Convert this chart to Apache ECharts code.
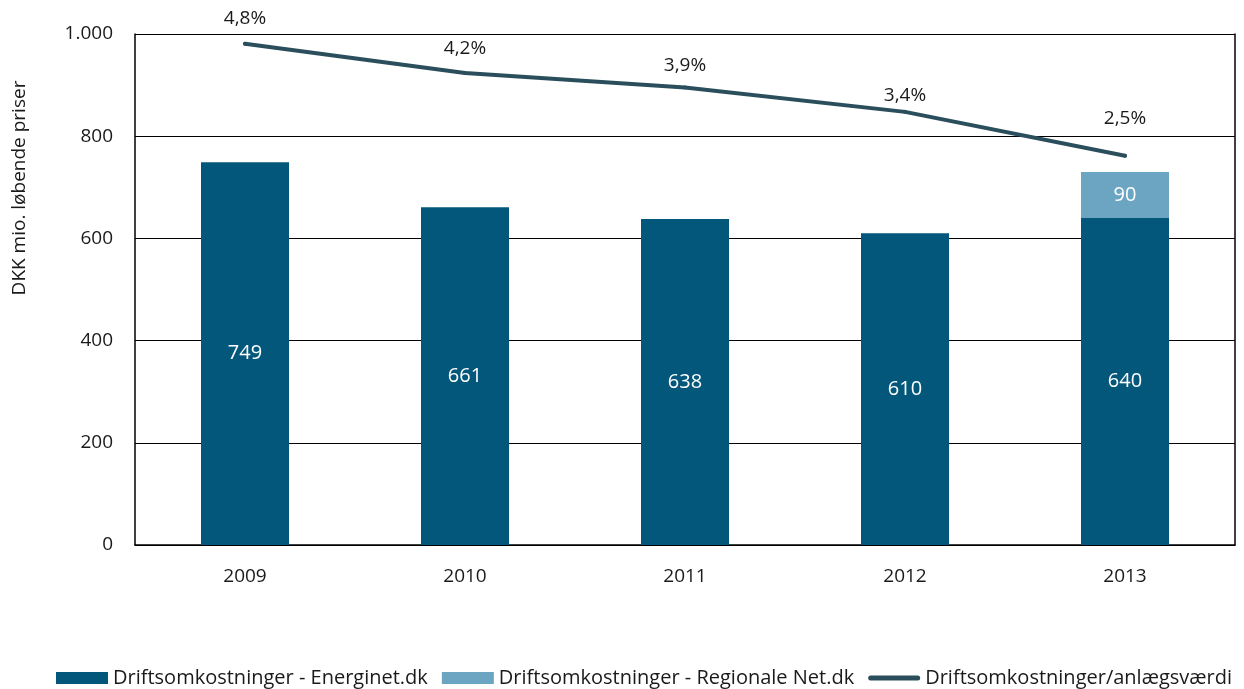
<!DOCTYPE html>
<html>
<head>
<meta charset="utf-8">
<script src="https://cdn.jsdelivr.net/npm/echarts@6/dist/echarts.min.js"></script>
<style>
  html, body { margin: 0; padding: 0; background: #fff; }
  #chart { width: 1244px; height: 689px; }
</style>
</head>
<body>
<div id="chart"></div>
<script>
var years = ['2009', '2010', '2011', '2012', '2013'];
var energinet = [749, 661, 638, 610, 640];
var regionale = ['-', '-', '-', '-', 90];
var andel = [4.8, 4.2, 3.9, 3.4, 2.5];
var yTicks = [0, 200, 400, 600, 800, 1000];

// label nudges for the percent labels (px, positive = down)
var pctLabelShift = [0, 1, 4, 9, -12];

var fontName = '"Open Sans", "Noto Sans", sans-serif';
var chart = echarts.init(document.getElementById('chart'));

function fmtThousand(v) {
  return String(v).replace(/\B(?=(\d{3})+(?!\d))/g, '.');
}

var lineData = andel.map(function (v, i) {
  return { value: v, label: { offset: [0, pctLabelShift[i]] } };
});

var options = {
  animation: false,
  textStyle: { fontFamily: fontName },
  grid: { left: 135, right: 9, top: 34, bottom: 144 },
  graphic: [{
    type: 'text',
    x: 20,
    y: 188,
    rotation: Math.PI / 2,
    style: {
      text: 'DKK mio. løbende priser',
      font: '19px ' + fontName,
      fill: '#1a1a1a',
      align: 'center',
      verticalAlign: 'middle'
    }
  }],
  legend: {
    left: 51,
    top: 663,
    itemWidth: 52,
    itemHeight: 12,
    itemGap: 14,
    textStyle: { fontSize: 20, color: '#1a1a1a', fontFamily: fontName },
    data: [
      { name: 'Driftsomkostninger - Energinet.dk', icon: 'rect' },
      { name: 'Driftsomkostninger - Regionale Net.dk', icon: 'rect' },
      {
        name: 'Driftsomkostninger/anlægsværdi',
        icon: 'path://M2.5,0h47a2.5,2.5 0 0 1 0,5h-47a2.5,2.5 0 0 1 0,-5z',
        itemStyle: { color: '#2b4e5c', opacity: 1 }
      }
    ]
  },
  xAxis: {
    type: 'category',
    data: years,
    axisLine: { lineStyle: { color: '#000', width: 1.5 } },
    axisTick: { inside: true, length: 7, lineStyle: { color: '#000' } },
    axisLabel: { fontSize: 19, color: '#1a1a1a', margin: 22 }
  },
  yAxis: [{
    type: 'value',
    min: yTicks[0],
    max: yTicks[yTicks.length - 1],
    interval: 200,
    axisLine: { show: true, lineStyle: { color: '#000', width: 1.5 } },
    axisTick: { show: false },
    splitLine: { lineStyle: { color: '#000', width: 1 } },
    axisLabel: {
      fontSize: 19, color: '#1a1a1a', margin: 22,
      formatter: fmtThousand
    }
  }, {
    type: 'value',
    min: -5.5,
    max: 5,
    position: 'right',
    axisLine: { show: true, lineStyle: { color: '#000', width: 1.5 } },
    axisTick: { show: false },
    axisLabel: { show: false },
    splitLine: { show: false }
  }],
  series: [{
    name: 'Driftsomkostninger - Energinet.dk',
    type: 'bar',
    stack: 'drift',
    barWidth: 88,
    data: energinet,
    itemStyle: { color: '#02577a' },
    label: { show: true, position: 'inside', color: '#fff', fontSize: 20 }
  }, {
    name: 'Driftsomkostninger - Regionale Net.dk',
    type: 'bar',
    stack: 'drift',
    barWidth: 88,
    data: regionale,
    itemStyle: { color: '#6ba5c1' },
    label: { show: true, position: 'inside', color: '#fff', fontSize: 20 }
  }, {
    name: 'Driftsomkostninger/anlægsværdi',
    type: 'line',
    yAxisIndex: 1,
    data: lineData,
    symbol: 'circle',
    symbolSize: 4,
    lineStyle: { color: '#2b4e5c', width: 4, cap: 'round' },
    itemStyle: { color: '#2b4e5c' },
    label: {
      show: true,
      position: 'top',
      distance: 14,
      fontSize: 19,
      color: '#1a1a1a',
      formatter: function (p) { return String(p.value).replace('.', ',') + '%'; }
    }
  }]
};

chart.setOption(options);
</script>
</body>
</html>
